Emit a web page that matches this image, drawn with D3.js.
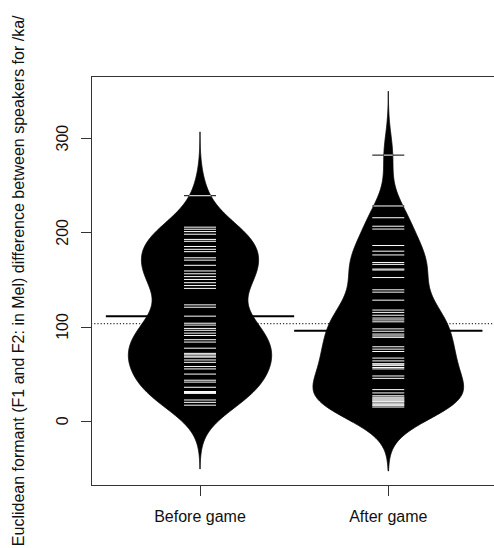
<!DOCTYPE html>
<html>
<head>
<meta charset="utf-8">
<script src="https://cdn.jsdelivr.net/npm/d3@7"></script>
<style>
  body { margin: 0; background: #fff; }
  svg text { font-family: "Liberation Sans", Arial, sans-serif; fill: #111; }
</style>
</head>
<body>
<svg width="494" height="548"></svg>
<script>
const categories = ["Before game", "After game"];
const beforeGame = [238.9, 205.5, 203.3, 200.8, 198, 192.5, 190.5, 185, 182, 179.5, 173, 170.5,
  165, 159, 156, 153, 150, 146.5, 143.5, 140.5, 123, 120.5, 111, 103.5, 101.5, 98, 96, 93, 90.5,
  86, 83.5, 77, 71.5, 70, 68.5, 67.5, 64.5, 62, 57.5, 55, 49.5, 43, 41, 35.5, 31, 30, 29, 22,
  19.5, 16.5];
const afterGame = [282, 228, 215.5, 206.5, 203.5, 186, 180, 176, 168, 166, 161, 160, 152, 139,
  136.5, 128, 117.5, 115, 112, 109, 107, 105, 97.5, 95, 92, 90, 88.5, 78.5, 76, 73.5, 66.5, 63.5,
  60.5, 60, 58.5, 56.5, 55, 47.5, 45, 33, 29.5, 26.5, 25, 24, 23, 22, 21, 20, 20, 18, 17, 16, 14.5];
const yTicks = [0, 100, 200, 300];
const yTitle = "Euclidean formant (F1 and F2: in Mel) difference between speakers for /ka/";
const bw = 22.6;

const groups = [beforeGame, afterGame];

const svg = d3.select("svg");
const x = d3.scaleLinear().domain([0.42, 2.58]).range([90.8, 497.5]);
const y = d3.scaleLinear().domain([-69, 366]).range([485.7, 76]);

const gauss = u => Math.exp(-0.5 * u * u) / Math.sqrt(2 * Math.PI);
function kde(data) {
  const lo = d3.min(data) - 3 * bw, hi = d3.max(data) + 3 * bw;
  return d3.range(512).map(i => {
    const t = lo + (hi - lo) * i / 511;
    return [t, d3.mean(data, v => gauss((t - v) / bw)) / bw];
  });
}
const dens = groups.map(kde);
const maxD = d3.max(dens, d => d3.max(d, p => p[1]));
const w = d3.scaleLinear().domain([0, maxD]).range([0, 0.4]);

const clip = svg.append("defs");
const plot = svg.append("g");

// overall mean, dotted
const allMean = d3.mean(groups.flat());
plot.append("line")
  .attr("x1", 91).attr("x2", 494)
  .attr("y1", y(allMean)).attr("y2", y(allMean))
  .attr("stroke", "#333").attr("stroke-dasharray", "1.2,2").attr("stroke-width", 1.2);

groups.forEach((data, i) => {
  const c = i + 1;
  const area = d3.area()
    .y(d => y(d[0]))
    .x0(d => x(c - w(d[1])))
    .x1(d => x(c + w(d[1])));
  const dPath = area(dens[i]);
  clip.append("clipPath").attr("id", "bean" + i).append("path").attr("d", dPath);

  plot.append("path").attr("d", dPath).attr("fill", "#000").attr("stroke", "#000").attr("stroke-width", 0.8);

  // mean line
  const m = d3.mean(data);
  plot.append("line")
    .attr("x1", x(c - 0.5)).attr("x2", x(c + 0.5))
    .attr("y1", y(m)).attr("y2", y(m))
    .attr("stroke", "#000").attr("stroke-width", 2);

  // beanlines: black outside the bean, white inside
  const bl = plot.append("g");
  bl.selectAll("line").data(data).join("line")
    .attr("x1", x(c - 0.085)).attr("x2", x(c + 0.085))
    .attr("y1", d => y(d)).attr("y2", d => y(d))
    .attr("stroke", "#000").attr("stroke-width", 1);
  bl.append("g").attr("clip-path", `url(#bean${i})`)
    .selectAll("line").data(data).join("line")
    .attr("x1", x(c - 0.085)).attr("x2", x(c + 0.085))
    .attr("y1", d => y(d)).attr("y2", d => y(d))
    .attr("stroke", "#fff").attr("stroke-width", 1);
});

// box
svg.append("rect")
  .attr("x", 91.5).attr("y", 76.5).attr("width", 406).attr("height", 409)
  .attr("fill", "none").attr("stroke", "#333").attr("stroke-width", 1);

// y axis
const ya = svg.append("g");
ya.selectAll("line").data(yTicks).join("line")
  .attr("x1", 81).attr("x2", 91.5)
  .attr("y1", d => Math.round(y(d)) + 0.5).attr("y2", d => Math.round(y(d)) + 0.5)
  .attr("stroke", "#333");
ya.selectAll("text").data(yTicks).join("text")
  .attr("transform", d => `translate(68,${y(d)}) rotate(-90)`)
  .attr("text-anchor", "middle").attr("font-size", 16)
  .text(d => d);

// x axis
const xa = svg.append("g");
xa.selectAll("line").data(categories).join("line")
  .attr("x1", (d, i) => Math.round(x(i + 1)) + 0.5).attr("x2", (d, i) => Math.round(x(i + 1)) + 0.5)
  .attr("y1", 485.5).attr("y2", 496)
  .attr("stroke", "#333");
xa.selectAll("text").data(categories).join("text")
  .attr("x", (d, i) => x(i + 1)).attr("y", 522)
  .attr("text-anchor", "middle").attr("font-size", 16)
  .text(d => d);

svg.append("text")
  .attr("transform", `translate(24,${(76 + 485.7) / 2}) rotate(-90)`)
  .attr("text-anchor", "middle").attr("font-size", 16)
  .text(yTitle);
</script>
</body>
</html>
